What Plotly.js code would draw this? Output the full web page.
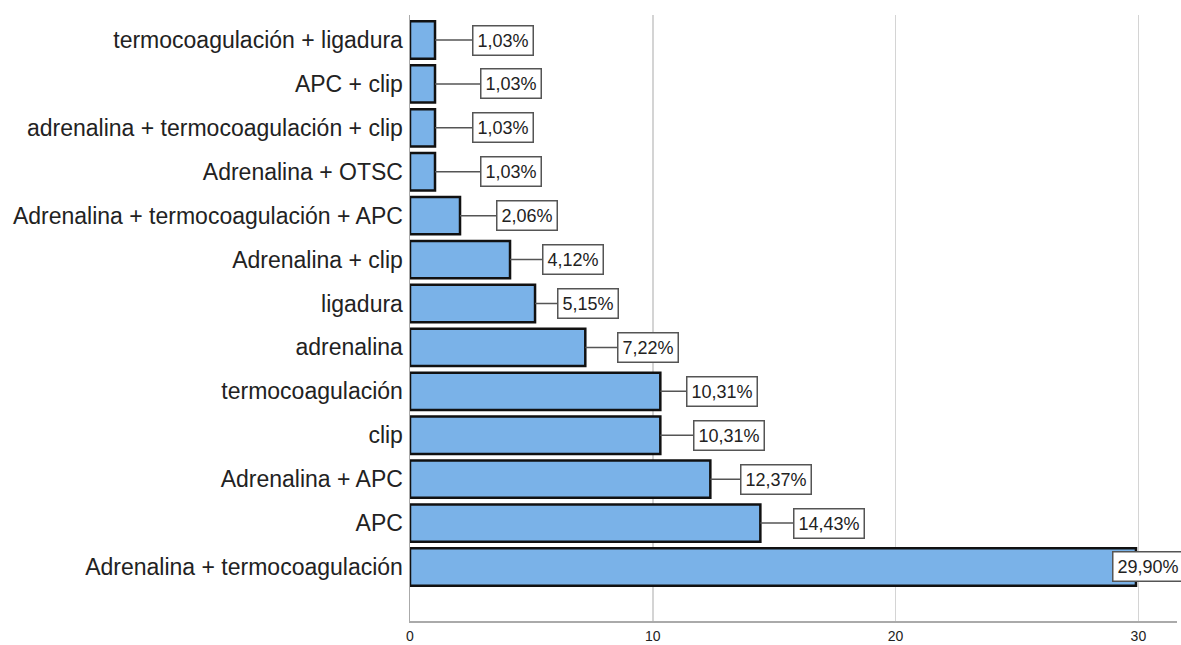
<!DOCTYPE html>
<html>
<head>
<meta charset="utf-8">
<script src="https://cdn.plot.ly/plotly-3.0.1.min.js"></script>
<style>html,body{margin:0;padding:0;background:#fff;}#chart{width:1181px;height:645px;}</style>
</head>
<body>
<div id="chart"></div>
<script>
// Categories, top to bottom as shown
const categories = [
  "termocoagulación + ligadura",
  "APC + clip",
  "adrenalina + termocoagulación + clip",
  "Adrenalina + OTSC",
  "Adrenalina + termocoagulación + APC",
  "Adrenalina + clip",
  "ligadura",
  "adrenalina",
  "termocoagulación",
  "clip",
  "Adrenalina + APC",
  "APC",
  "Adrenalina + termocoagulación"
];
// Percentages
const percentages = [1.03, 1.03, 1.03, 1.03, 2.06, 4.12, 5.15, 7.22, 10.31, 10.31, 12.37, 14.43, 29.90];
// Value label texts
const valueLabels = ["1,03%", "1,03%", "1,03%", "1,03%", "2,06%", "4,12%", "5,15%", "7,22%", "10,31%", "10,31%", "12,37%", "14,43%", "29,90%"];
const xTicks = [0, 10, 20, 30];

// style: pixel gap between bar end and label box
const labelGap = [37, 45, 37, 45, 36, 32, 22, 32, 26, 33, 30, 33, -24];

const trace = {
  type: 'bar',
  orientation: 'h',
  y: categories,
  x: percentages,
  width: 0.85,
  marker: { color: '#7ab2e8', line: { color: '#111111', width: 2.5 } },
  hoverinfo: 'none'
};

const annotations = percentages.map((v, i) => {
  const g = labelGap[i];
  const base = {
    x: v, y: categories[i], xref: 'x', yref: 'y',
    text: valueLabels[i],
    font: { family: 'Liberation Sans, Arial, sans-serif', size: 18, color: '#222' },
    bgcolor: '#ffffff', bordercolor: '#555555', borderwidth: 1.5, borderpad: 4,
    xanchor: 'left', yanchor: 'middle'
  };
  if (g > 0) {
    return Object.assign(base, {
      showarrow: true, arrowhead: 0, arrowwidth: 1.5, arrowcolor: '#555555',
      ax: g, ay: 0, axref: 'pixel', ayref: 'pixel', standoff: 0, startstandoff: 0
    });
  }
  return Object.assign(base, { showarrow: false, xshift: g });
});

const layout = {
  width: 1181, height: 645,
  margin: { l: 410, r: 4, t: 15, b: 24, pad: 0 },
  paper_bgcolor: '#ffffff', plot_bgcolor: '#ffffff',
  showlegend: false,
  bargap: 0.15,
  xaxis: {
    range: [0, 31.59],
    tickvals: xTicks,
    ticktext: xTicks.map(String),
    showgrid: true, gridcolor: '#d4d4d4', gridwidth: 1.5,
    zeroline: false,
    showline: true, linecolor: '#aaaaaa', linewidth: 1.5,
    ticks: '', ticklabelstandoff: 2,
    tickfont: { family: 'Liberation Sans, Arial, sans-serif', size: 14, color: '#222' },
    fixedrange: true
  },
  yaxis: {
    type: 'category',
    categoryorder: 'array', categoryarray: categories,
    range: [13.23, -0.57],
    showgrid: false, zeroline: false,
    showline: true, linecolor: '#aaaaaa', linewidth: 1.5,
    ticks: '', ticklabelstandoff: 1,
    tickfont: { family: 'Liberation Sans, Arial, sans-serif', size: 23, color: '#222' },
    fixedrange: true
  },
  annotations: annotations
};

Plotly.newPlot('chart', [trace], layout, { displayModeBar: false, staticPlot: true });
</script>
</body>
</html>
